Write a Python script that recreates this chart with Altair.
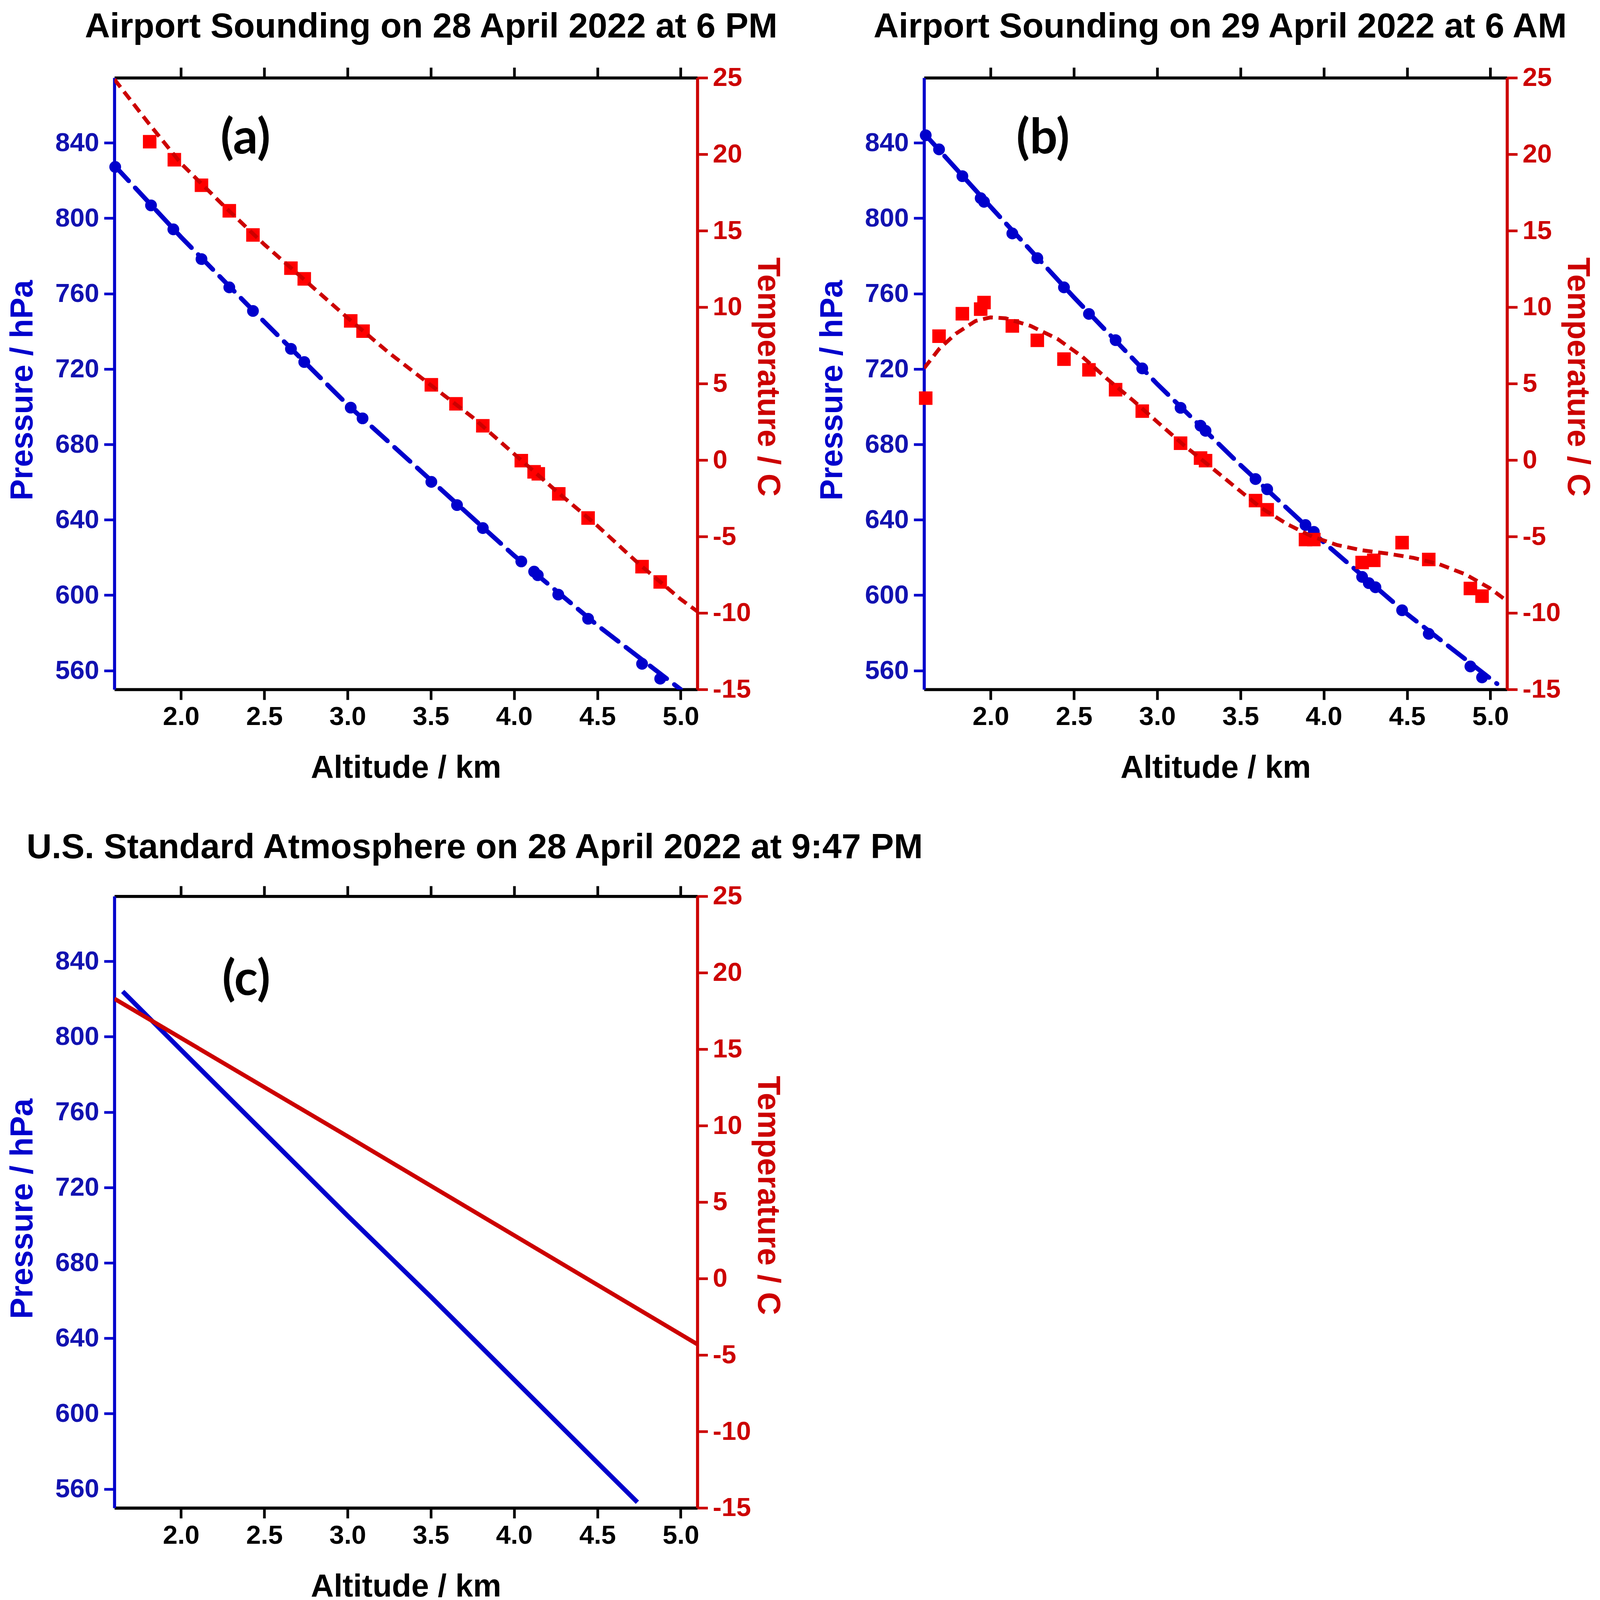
import altair as alt
import pandas as pd

# ---------------- data ----------------
# Panel (a): Airport sounding 28 April 2022, 6 PM
a_p_alt = [1.605, 1.82, 1.954, 2.123, 2.29, 2.432, 2.66, 2.74, 3.019, 3.09, 3.503, 3.657,
           3.812, 4.043, 4.12, 4.142, 4.265, 4.444, 4.768, 4.877]
a_p_val = [827.2, 806.8, 794.1, 778.3, 763.3, 750.8, 730.7, 723.7, 699.5, 693.8, 660.1, 647.8,
           635.6, 617.9, 612.5, 610.6, 600.3, 587.5, 563.6, 555.7]
a_t_alt = [1.812, 1.96, 2.123, 2.29, 2.432, 2.66, 2.74, 3.019, 3.093, 3.503, 3.651, 3.812,
           4.043, 4.12, 4.145, 4.268, 4.444, 4.768, 4.877]
a_t_val = [20.82, 19.64, 17.97, 16.3, 14.72, 12.55, 11.85, 9.1, 8.43, 4.92, 3.68, 2.24,
           -0.04, -0.77, -0.9, -2.21, -3.79, -6.97, -7.97]
a_pfit_alt = [1.6, 2.0, 2.5, 3.0, 3.5, 4.0, 4.5, 5.0]
a_pfit_val = [828, 790, 745, 701, 661, 621, 584, 550]
a_tfit_alt = [1.6, 1.8, 2.0, 2.25, 2.5, 2.75, 3.0, 3.25, 3.5, 3.75, 4.0, 4.25, 4.5, 4.75, 5.0, 5.1]
a_tfit_val = [24.9, 22.1, 19.4, 16.7, 14.1, 11.7, 9.3, 7.0, 4.9, 2.8, 0.4, -2.0, -4.3, -6.8, -9.1, -9.9]

# Panel (b): Airport sounding 29 April 2022, 6 AM
b_p_alt = [1.61, 1.69, 1.83, 1.94, 1.96, 2.13, 2.28, 2.44, 2.59, 2.75, 2.91, 3.14, 3.26,
           3.29, 3.59, 3.66, 3.89, 3.94, 4.23, 4.27, 4.31, 4.47, 4.63, 4.88, 4.95]
b_p_val = [844.0, 836.5, 822.3, 810.6, 808.7, 791.9, 778.8, 763.3, 749.2, 735.3, 720.3, 699.4,
           689.9, 687.2, 661.6, 656.2, 637.2, 633.6, 609.7, 606.4, 604.2, 592.0, 579.5, 562.2, 556.4]
b_t_alt = [1.61, 1.69, 1.83, 1.94, 1.96, 2.13, 2.28, 2.44, 2.59, 2.75, 2.91, 3.14, 3.26,
           3.29, 3.59, 3.66, 3.89, 3.94, 4.23, 4.30, 4.47, 4.63, 4.88, 4.95]
b_t_val = [4.05, 8.1, 9.57, 9.87, 10.3, 8.77, 7.83, 6.6, 5.9, 4.6, 3.2, 1.1, 0.13,
           -0.04, -2.65, -3.25, -5.2, -5.2, -6.7, -6.56, -5.4, -6.5, -8.4, -8.9]
b_pfit_alt = [1.6, 2.0, 2.5, 3.0, 3.5, 4.0, 4.5, 5.04]
b_pfit_val = [845, 806, 758, 712, 669, 628, 590, 553]
b_tfit_alt = [1.60, 1.69, 1.79, 1.91, 2.0, 2.09, 2.24, 2.40, 2.55, 2.70, 2.86, 3.01, 3.16,
              3.32, 3.47, 3.62, 3.78, 3.93, 4.08, 4.23, 4.39, 4.54, 4.69, 4.85, 5.0, 5.09]
b_tfit_val = [6.0, 7.26, 8.26, 9.1, 9.33, 9.27, 8.77, 7.93, 6.76, 5.3, 3.85, 2.4, 0.97,
              -0.44, -1.78, -3.1, -4.19, -5.0, -5.56, -5.9, -6.13, -6.4, -6.8, -7.47, -8.4, -9.14]

# Panel (c): U.S. Standard Atmosphere 28 April 2022, 9:47 PM
c_p_alt = [1.65, 2.0, 2.5, 3.0, 3.5, 4.0, 4.5, 4.74]
c_p_val = [824, 793, 749, 705, 662, 618, 574, 553]
c_t_alt = [1.6, 3.0, 5.1]
c_t_val = [18.3, 9.3, -4.3]

titles = ["Airport Sounding on 28 April 2022 at 6 PM",
          "Airport Sounding on 29 April 2022 at 6 AM",
          "U.S. Standard Atmosphere on 28 April 2022 at 9:47 PM"]
panel_labels = ["(a)", "(b)", "(c)"]

X_TICKS = [2.0, 2.5, 3.0, 3.5, 4.0, 4.5, 5.0]
P_TICKS = [560, 600, 640, 680, 720, 760, 800, 840]
T_TICKS = [-15, -10, -5, 0, 5, 10, 15, 20, 25]
X_DOMAIN = [1.6, 5.1]
P_DOMAIN = [550, 874.5]
T_DOMAIN = [-15, 25]

# ---------------- styling ----------------
BLUE = "#0000CC"
BLUE_TXT = "#1212B0"
RED = "#CC0000"
RED_PT = "#FF0000"
FONT = "Liberation Sans"
W, H = 1525, 1600
TICK = 27

xs = alt.Scale(domain=X_DOMAIN, nice=False, zero=False)
ps = alt.Scale(domain=P_DOMAIN, nice=False, zero=False)
ts = alt.Scale(domain=T_DOMAIN, nice=False, zero=False)

common = dict(grid=False, tickSize=TICK, tickWidth=7, domainWidth=8,
              labelFont=FONT, labelFontSize=69, labelFontWeight="bold",
              titleFont=FONT, titleFontSize=83, titleFontWeight="bold",
              labelFlush=False, labelOverlap=False)

bottom_axis = alt.Axis(orient="bottom", values=X_TICKS, format=".1f", title="Altitude / km",
                       domainColor="black", tickColor="black", labelColor="black",
                       titleColor="black", labelPadding=11, titlePadding=58, **common)
top_axis = alt.Axis(orient="top", values=X_TICKS, labels=False, title=None,
                    domainColor="black", tickColor="black", grid=False,
                    tickSize=TICK, tickWidth=7, domainWidth=8)
left_axis = alt.Axis(orient="left", values=P_TICKS, title="Pressure / hPa",
                     domainColor=BLUE, tickColor=BLUE, labelColor=BLUE_TXT,
                     titleColor=BLUE, labelPadding=13, titleX=-240, titleY=817,
                     titleBaseline="middle", titleAlign="center", titleAngle=270, **common)
right_axis = alt.Axis(orient="right", values=T_TICKS, title="Temperature / C",
                      labelExpr="'' + datum.value",
                      domainColor=RED, tickColor=RED, labelColor=RED,
                      titleColor=RED, labelPadding=13, titleX=184, titleY=782,
                      titleBaseline="middle", titleAlign="center", titleAngle=90,
                      **common)


def df(xv, yv):
    return pd.DataFrame({"alt": xv, "val": yv})


def press_points(xv, yv):
    return alt.Chart(df(xv, yv)).mark_point(shape="circle", filled=True, size=950,
                                            color=BLUE, opacity=1).encode(
        x=alt.X("alt:Q", scale=xs, axis=bottom_axis),
        y=alt.Y("val:Q", scale=ps, axis=left_axis))


def press_line(xv, yv, dashed=True, width=12):
    kw = dict(strokeDash=[55, 25]) if dashed else {}
    return alt.Chart(df(xv, yv)).mark_line(color=BLUE, strokeWidth=width, clip=True,
                                           strokeCap="round", **kw).encode(
        x=alt.X("alt:Q", scale=xs, axis=None),
        y=alt.Y("val:Q", scale=ps, axis=None))


def temp_points(xv, yv):
    return alt.Chart(df(xv, yv)).mark_point(shape="square", filled=True, size=1250,
                                            color=RED_PT, opacity=1).encode(
        x=alt.X("alt:Q", scale=xs, axis=top_axis),
        y=alt.Y("val:Q", scale=ts, axis=right_axis))


def temp_line(xv, yv, dashed=True, width=10, axes=False):
    kw = dict(strokeDash=[26, 15]) if dashed else {}
    return alt.Chart(df(xv, yv)).mark_line(color=RED, strokeWidth=width, clip=True,
                                           **kw).encode(
        x=alt.X("alt:Q", scale=xs, axis=top_axis if axes else None),
        y=alt.Y("val:Q", scale=ts, axis=right_axis if axes else None))


def label(text, px, py):
    return alt.Chart(pd.DataFrame({"lab": [text]})).mark_text(
        font="Lato", fontSize=128, fontWeight="bold", color="black",
        align="center", baseline="middle").encode(
        x=alt.value(px), y=alt.value(py), text="lab:N")


def title(text, dx, offset):
    return alt.TitleParams(text=text, font=FONT, fontSize=91, fontWeight="bold",
                           color="black", anchor="middle", frame="group", dx=dx,
                           offset=offset, baseline="top")


pa = alt.layer(
    press_points(a_p_alt, a_p_val),
    press_line(a_pfit_alt, a_pfit_val),
    temp_points(a_t_alt, a_t_val),
    temp_line(a_tfit_alt, a_tfit_val),
    label(panel_labels[0], 343, 160),
).resolve_scale(y="independent").resolve_axis(x="independent", y="independent").properties(
    width=W, height=H, title=title(titles[0], 66, 52))

pb = alt.layer(
    press_points(b_p_alt, b_p_val),
    press_line(b_pfit_alt, b_pfit_val),
    temp_points(b_t_alt, b_t_val),
    temp_line(b_tfit_alt, b_tfit_val),
    label(panel_labels[1], 311, 160),
).resolve_scale(y="independent").resolve_axis(x="independent", y="independent").properties(
    width=W, height=H, title=title(titles[1], 12, 52))

pc_blue = alt.Chart(df(c_p_alt, c_p_val)).mark_line(color=BLUE, strokeWidth=12, clip=True).encode(
    x=alt.X("alt:Q", scale=xs, axis=bottom_axis),
    y=alt.Y("val:Q", scale=ps, axis=left_axis))

pc = alt.layer(
    pc_blue,
    temp_line(c_t_alt, c_t_val, dashed=False, width=11, axes=True),
    label(panel_labels[2], 345, 220),
).resolve_scale(y="independent").resolve_axis(x="independent", y="independent").properties(
    width=W, height=H, title=title(titles[2], 180, 46))

chart = alt.concat(pa, pb, pc, columns=2, spacing={"row": 541, "column": 593},
                   bounds="flush").configure_view(stroke=None).properties(
    padding={"left": 10, "top": -28, "right": 10, "bottom": 10},
    background="white")

chart.save("out.html", embed_options={"renderer": "svg", "actions": False})
